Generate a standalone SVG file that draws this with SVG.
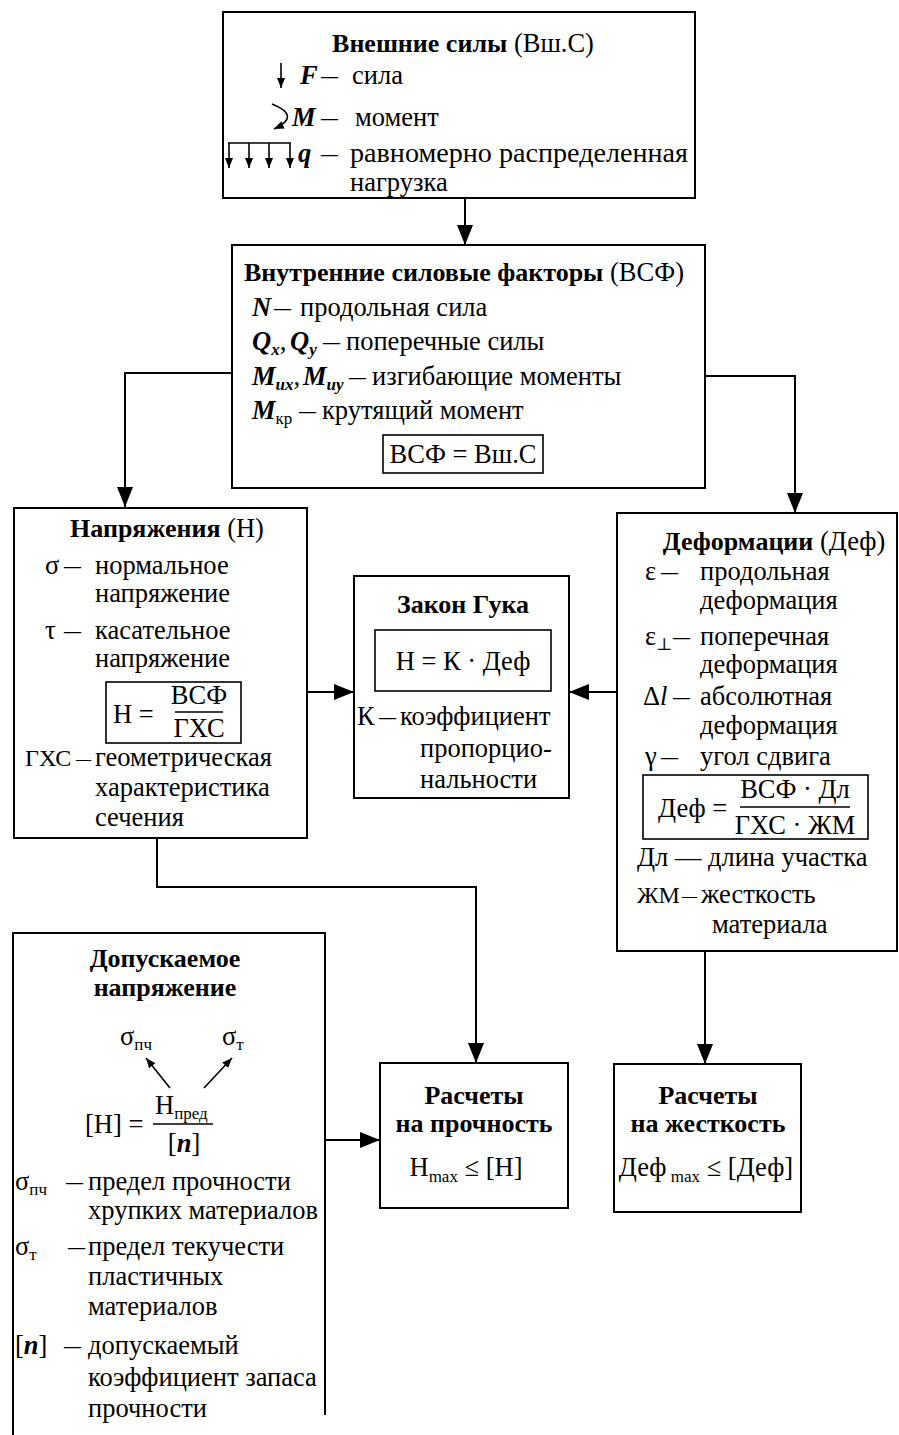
<svg xmlns="http://www.w3.org/2000/svg" width="899" height="1435" viewBox="0 0 899 1435">
<style>
text { font-family: "Liberation Serif", "Times New Roman", "DejaVu Serif", serif; font-size: 26.5px; fill: #000; }
.b { font-weight: bold; font-size: 26px; }
.i { font-style: italic; font-weight: bold; }
.it { font-style: italic; }
.s { font-size: 17px; }
.d { font-size: 17px; font-weight: bold; }
.sm { font-size: 24px; }
.box { fill: none; stroke: #000; stroke-width: 2; }
.ibox { fill: none; stroke: #000; stroke-width: 1.6; }
.conn { fill: none; stroke: #000; stroke-width: 2; }
.thin { fill: none; stroke: #000; stroke-width: 1.6; }
.mid { text-anchor: middle; }
</style>
<defs>
<marker id="ah" viewBox="0 0 20 16" refX="20" refY="8" markerWidth="20" markerHeight="16" markerUnits="userSpaceOnUse" orient="auto">
<path d="M0,0 L20,8 L0,16 z" fill="#000"/>
</marker>
<marker id="sa" viewBox="0 0 10 8" refX="10" refY="4" markerWidth="10" markerHeight="8" markerUnits="userSpaceOnUse" orient="auto">
<path d="M0,0 L10,4 L0,8 z" fill="#000"/>
</marker>
</defs>

<g id="connectors">
<path class="conn" d="M465,198 V245" marker-end="url(#ah)"/>
<path class="conn" d="M232,373 H125 V507" marker-end="url(#ah)"/>
<path class="conn" d="M705,376 H795 V513" marker-end="url(#ah)"/>
<path class="conn" d="M307,692 H354" marker-end="url(#ah)"/>
<path class="conn" d="M617,692 H569" marker-end="url(#ah)"/>
<path class="conn" d="M157,838 V887 H476 V1063" marker-end="url(#ah)"/>
<path class="conn" d="M325,1140 H380" marker-end="url(#ah)"/>
<path class="conn" d="M705,951 V1064" marker-end="url(#ah)"/>
</g>

<g id="external-forces">
<rect class="box" x="223" y="12" width="472" height="186"/>
<text x="463" y="52" class="mid"><tspan class="b">Внешние силы</tspan> (Вш.С)</text>
<path class="thin" d="M281,63 V88" marker-end="url(#sa)"/>
<text x="300" y="84" class="i">F</text>
<text x="321" y="82" class="d">—</text>
<text x="352" y="84">сила</text>
<path class="thin" d="M272,104 Q302,116 274,129" marker-end="url(#sa)"/>
<text x="292" y="126" class="i">M</text>
<text x="321" y="124" class="d">—</text>
<text x="355" y="126">момент</text>
<path class="thin" d="M228,143 H291"/>
<path class="thin" d="M229,143 V168" marker-end="url(#sa)"/>
<path class="thin" d="M249,143 V168" marker-end="url(#sa)"/>
<path class="thin" d="M269,143 V168" marker-end="url(#sa)"/>
<path class="thin" d="M290,143 V168" marker-end="url(#sa)"/>
<text x="298" y="162" class="i">q</text>
<text x="321" y="160" class="d">—</text>
<text x="350" y="162" textLength="338" lengthAdjust="spacingAndGlyphs">равномерно распределенная</text>
<text x="350" y="191">нагрузка</text>
</g>

<g id="internal-factors">
<rect class="box" x="232" y="245" width="473" height="243"/>
<text x="464" y="281" class="mid"><tspan class="b">Внутренние силовые факторы</tspan> (ВСФ)</text>
<text x="252" y="316" class="i">N</text>
<text x="274" y="314" class="d">—</text>
<text x="300" y="316">продольная сила</text>
<text y="350"><tspan x="252" class="i">Q</tspan><tspan class="i s" dy="5">x</tspan><tspan dy="-5">,</tspan><tspan x="290" class="i">Q</tspan><tspan class="i s" dy="5">y</tspan></text>
<text x="323" y="348" class="d">—</text>
<text x="346" y="350">поперечные силы</text>
<text y="385"><tspan x="252" class="i">M</tspan><tspan class="i s" dy="5">их</tspan><tspan dy="-5">,</tspan><tspan x="303" class="i">M</tspan><tspan class="i s" dy="5">иу</tspan></text>
<text x="349" y="383" class="d">—</text>
<text x="372" y="385">изгибающие моменты</text>
<text y="419"><tspan x="252" class="i">M</tspan><tspan class="s" dy="5">кр</tspan></text>
<text x="299" y="417" class="d">—</text>
<text x="322" y="419">крутящий момент</text>
<rect class="ibox" x="383" y="435" width="160" height="38"/>
<text x="463" y="463" class="mid">ВСФ = Вш.С</text>
</g>

<g id="stresses">
<rect class="box" x="14" y="508" width="293" height="330"/>
<text x="167" y="537" class="mid"><tspan class="b">Напряжения</tspan> (Н)</text>
<text x="45" y="574">σ</text>
<text x="64" y="572" class="d">—</text>
<text x="95" y="574">нормальное</text>
<text x="95" y="602">напряжение</text>
<text x="45" y="639">τ</text>
<text x="64" y="637" class="d">—</text>
<text x="95" y="639">касательное</text>
<text x="95" y="667">напряжение</text>
<rect class="ibox" x="106" y="682" width="135" height="61"/>
<text x="113" y="723">Н =</text>
<text x="199" y="704" class="mid">ВСФ</text>
<path class="thin" d="M175,712 H223"/>
<text x="199" y="737" class="mid">ГХС</text>
<text x="25" y="766" class="sm">ГХС</text>
<text x="76" y="764" class="d" style="font-size:15px">—</text>
<text x="95" y="766">геометрическая</text>
<text x="95" y="796">характеристика</text>
<text x="95" y="826">сечения</text>
</g>

<g id="hooke">
<rect class="box" x="354" y="576" width="215" height="222"/>
<text x="463" y="613" class="mid b">Закон Гука</text>
<rect class="ibox" x="375" y="630" width="176" height="61"/>
<text x="463" y="670" class="mid">Н = К · Деф</text>
<text x="357" y="725">К</text>
<text x="379" y="723" class="d">—</text>
<text x="400" y="725">коэффициент</text>
<text x="420" y="757">пропорцио-</text>
<text x="420" y="788">нальности</text>
</g>

<g id="deformations">
<rect class="box" x="617" y="513" width="280" height="438"/>
<text x="774" y="550" class="mid"><tspan class="b">Деформации</tspan> (Деф)</text>
<text x="645" y="580">ε</text>
<text x="661" y="578" class="d">—</text>
<text x="700" y="580">продольная</text>
<text x="700" y="609">деформация</text>
<text y="645"><tspan x="645">ε</tspan><tspan class="s" dy="5">⊥</tspan></text>
<text x="673" y="643" class="d">—</text>
<text x="700" y="645">поперечная</text>
<text x="700" y="673">деформация</text>
<text x="643" y="705">Δ<tspan class="it">l</tspan></text>
<text x="673" y="703" class="d">—</text>
<text x="700" y="705">абсолютная</text>
<text x="700" y="734">деформация</text>
<text x="645" y="765">γ</text>
<text x="661" y="763" class="d">—</text>
<text x="700" y="765">угол сдвига</text>
<rect class="ibox" x="643" y="775" width="225" height="64"/>
<text x="658" y="817">Деф =</text>
<text x="795" y="798" class="mid">ВСФ · Дл</text>
<path class="thin" d="M740,807 H850"/>
<text x="795" y="834" class="mid">ГХС · ЖМ</text>
<text x="637" y="866">Дл — длина участка</text>
<text x="637" y="903" class="sm">ЖМ</text>
<text x="682" y="901" class="d" style="font-size:15px">—</text>
<text x="701" y="903">жесткость</text>
<text x="712" y="933">материала</text>
</g>

<g id="allowable-stress">
<path class="box" d="M13,1435 V933 H325 V1415"/>
<text x="165" y="967" class="mid b">Допускаемое</text>
<text x="165" y="996" class="mid b">напряжение</text>
<text y="1045"><tspan x="120">σ</tspan><tspan class="s" dy="5">пч</tspan></text>
<text y="1045"><tspan x="222">σ</tspan><tspan class="s" dy="5">т</tspan></text>
<path class="thin" d="M170,1088 L146,1058" marker-end="url(#sa)"/>
<path class="thin" d="M204,1088 L232,1058" marker-end="url(#sa)"/>
<text x="85" y="1133">[Н] =</text>
<text y="1114"><tspan x="155">Н</tspan><tspan class="s" dy="5">пред</tspan></text>
<path class="thin" d="M153,1124 H213"/>
<text x="184" y="1152" class="mid">[<tspan class="i">n</tspan>]</text>
<text y="1190"><tspan x="15">σ</tspan><tspan class="s" dy="5">пч</tspan></text>
<text x="66" y="1188" class="d">—</text>
<text x="88" y="1190">предел прочности</text>
<text x="88" y="1219">хрупких материалов</text>
<text y="1255"><tspan x="15">σ</tspan><tspan class="s" dy="5">т</tspan></text>
<text x="68" y="1253" class="d">—</text>
<text x="88" y="1255">предел текучести</text>
<text x="88" y="1285">пластичных</text>
<text x="88" y="1315">материалов</text>
<text x="15" y="1354">[<tspan class="i">n</tspan>]</text>
<text x="64" y="1352" class="d">—</text>
<text x="88" y="1354">допускаемый</text>
<text x="88" y="1386">коэффициент запаса</text>
<text x="88" y="1417">прочности</text>
</g>

<g id="strength-calc">
<rect class="box" x="380" y="1063" width="188" height="145"/>
<text x="474" y="1104" class="mid b">Расчеты</text>
<text x="474" y="1132" class="mid b">на прочность</text>
<text x="466" y="1176" class="mid">Н<tspan class="s" dy="6">max</tspan><tspan dy="-6"> ≤ [Н]</tspan></text>
</g>

<g id="stiffness-calc">
<rect class="box" x="614" y="1064" width="187" height="148"/>
<text x="708" y="1104" class="mid b">Расчеты</text>
<text x="708" y="1132" class="mid b">на жесткость</text>
<text x="706" y="1176" class="mid">Деф<tspan class="s" dy="6"> max</tspan><tspan dy="-6"> ≤ [Деф]</tspan></text>
</g>
</svg>
